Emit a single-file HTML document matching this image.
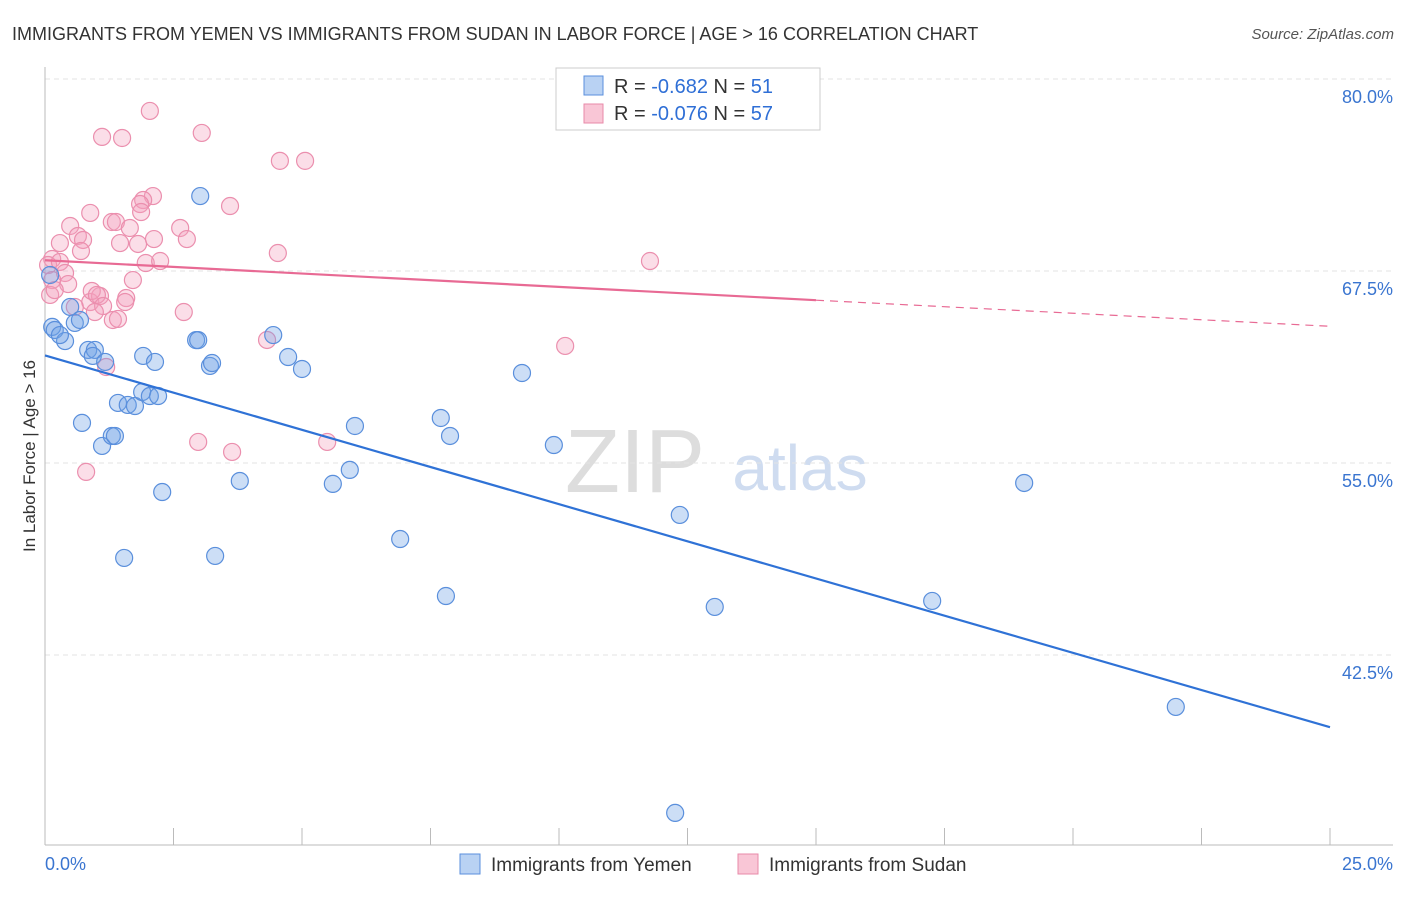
<!DOCTYPE html>
<html><head><meta charset="utf-8"><style>
body{margin:0;background:#fff;font-family:"Liberation Sans",sans-serif}
svg text{font-family:"Liberation Sans",sans-serif}
</style></head><body>
<svg id="c" width="1406" height="892" xmlns="http://www.w3.org/2000/svg">
<text x="12" y="40" font-size="18" fill="#333">IMMIGRANTS FROM YEMEN VS IMMIGRANTS FROM SUDAN IN LABOR FORCE | AGE &gt; 16 CORRELATION CHART</text>
<text x="1394" y="39" font-size="15" fill="#555" font-style="italic" text-anchor="end">Source: ZipAtlas.com</text>
<text x="35" y="456" font-size="17" fill="#333" text-anchor="middle" transform="rotate(-90 35 456)">In Labor Force | Age &gt; 16</text>
<text x="635" y="492" font-size="90" fill="#ddd" text-anchor="middle" font-family="Liberation Serif">ZIP</text>
<text x="800" y="490" font-size="64" fill="#cfdcf0" text-anchor="middle">atlas</text>
<g id="grid"></g><g id="axes"></g><g id="pts"></g><g id="lines"></g>
<g>
<rect x="556" y="68" width="264" height="62" fill="#fff" stroke="#ccc"/>
<rect x="584" y="76" width="19" height="19" fill="#b9d2f3" stroke="#5a8fdc"/>
<rect x="584" y="104" width="19" height="19" fill="#f9c6d6" stroke="#e88aa8"/>
<text x="614" y="93" font-size="20" fill="#333">R = <tspan fill="#2f6fd6">-0.682</tspan>   N = <tspan fill="#2f6fd6">51</tspan></text>
<text x="614" y="120" font-size="20" fill="#333">R = <tspan fill="#2f6fd6">-0.076</tspan>   N = <tspan fill="#2f6fd6">57</tspan></text>
</g>
<g>
<rect x="460" y="854" width="20" height="20" fill="#b9d2f3" stroke="#5a8fdc"/>
<text x="491" y="871" font-size="19" fill="#333">Immigrants from Yemen</text>
<rect x="738" y="854" width="20" height="20" fill="#f9c6d6" stroke="#e88aa8"/>
<text x="769" y="871" font-size="19" fill="#333">Immigrants from Sudan</text>
</g>
</svg>
<script>
const yTicks=[80,67.5,55,42.5];
const yTickLabels=["80.0%","67.5%","55.0%","42.5%"];
const xTickLabels=["0.0%","25.0%"];
const blueX=[3.02,0.14,0.19,0.39,0.29,0.49,0.58,0.68,0.84,0.97,0.93,1.17,0.72,1.11,1.30,1.36,1.42,1.61,1.75,1.89,2.04,2.20,1.91,2.14,2.94,2.98,3.21,3.25,2.28,1.54,3.31,3.79,4.44,4.73,5.0,6.03,5.93,5.60,6.91,7.70,7.88,7.80,9.28,9.90,12.35,13.03,12.26,17.26,19.05,22.0,0.10];
const blueY=[72.38,63.86,63.66,62.94,63.33,65.16,64.12,64.31,62.36,62.36,61.97,61.58,57.61,56.11,56.76,56.76,58.91,58.78,58.71,59.62,59.36,59.36,61.97,61.58,63.0,63.0,61.32,61.51,53.11,48.82,48.95,53.83,63.33,61.90,61.12,57.41,54.55,53.64,50.05,57.93,56.76,46.34,60.86,56.17,51.62,45.63,32.22,46.02,53.70,39.12,67.24];
const pinkX=[2.04,1.11,1.50,3.05,4.57,5.06,2.10,1.91,1.85,1.87,3.60,0.88,0.49,1.30,1.38,1.65,2.63,0.29,0.64,0.74,1.46,1.81,2.12,2.76,0.70,0.14,0.06,0.29,1.96,2.24,4.53,11.77,0.39,1.71,0.14,0.45,0.10,0.88,1.07,0.91,1.01,1.58,1.56,0.58,1.13,1.32,1.42,2.70,0.97,4.32,10.12,1.19,2.98,3.64,5.49,0.80,0.19];
const pinkY=[77.92,76.23,76.16,76.49,74.67,74.67,72.38,72.12,71.86,71.34,71.73,71.28,70.43,70.69,70.69,70.30,70.30,69.32,69.78,69.52,69.32,69.26,69.58,69.58,68.80,68.28,67.89,68.09,68.02,68.15,68.67,68.15,67.37,66.91,66.91,66.65,65.94,65.48,65.87,66.20,65.94,65.74,65.48,65.16,65.22,64.31,64.38,64.83,64.83,63.01,62.62,61.25,56.37,55.72,56.37,54.42,66.26];
const blueTrend=[[0,62.0],[25,37.8]];
const pinkTrendSolid=[[0,68.2],[15,65.6]];
const pinkTrendDash=[[15,65.6],[25,63.9]];
const X=v=>45+v/25*1285, Y=v=>79+(80-v)*15.36;
const NS="http://www.w3.org/2000/svg";
function mk(t,a,p){const e=document.createElementNS(NS,t);for(const k in a)e.setAttribute(k,a[k]);document.getElementById(p).appendChild(e);return e;}
yTicks.forEach((t,i)=>{
 const g=mk("line",{x1:45,x2:1393,y1:Y(t),y2:Y(t),stroke:"#e3e3e3","stroke-dasharray":"5,4"},"grid");
 
 
 const l=mk("text",{x:1393,y:Y(t)+24,"font-size":18,fill:"#3a75d0","text-anchor":"end"},"grid");
 l.textContent=yTickLabels[i];
 
 
});
const ax=mk("line",{x1:45,x2:45,y1:67,y2:845,stroke:"#bbb"},"axes");


const bx=mk("line",{x1:45,x2:1393,y1:845,y2:845,stroke:"#bbb"},"axes");


for(let i=0;i<=10;i++){const t=mk("line",{x1:X(i*2.5),x2:X(i*2.5),y1:828,y2:845,stroke:"#bbb"},"axes");
 
 }
[[0,"start",45],[25,"end",1393]].forEach((d,i)=>{const l=mk("text",{x:d[2],y:870,"font-size":18,fill:"#3a75d0","text-anchor":d[1]},"axes");l.textContent=xTickLabels[i];
 
 });
function pts(xs,ys,fill,stroke,name){xs.forEach((x,i)=>{const c=mk("circle",{cx:X(x),cy:Y(ys[i]),r:8.5,fill:fill,stroke:stroke,"stroke-width":1.2},"pts");
 
 });}
pts(pinkX,pinkY,"rgba(244,160,188,0.35)","#eb8fae","sudan-point");
pts(blueX,blueY,"rgba(110,160,230,0.35)","#5a8fdc","yemen-point");
function ln(p,col,dash,name){const l=mk("line",{x1:X(p[0][0]),y1:Y(p[0][1]),x2:X(p[1][0]),y2:Y(p[1][1]),stroke:col,"stroke-width":dash?1.2:2.2,"stroke-dasharray":dash||"none"},"lines");
 
 }
ln(blueTrend,"#2f72d6",null,"yemen-trend-line");
ln(pinkTrendSolid,"#e86a94",null,"sudan-trend-line");
ln(pinkTrendDash,"#e86a94","8,6","sudan-trend-extension");
</script>
</body></html>
